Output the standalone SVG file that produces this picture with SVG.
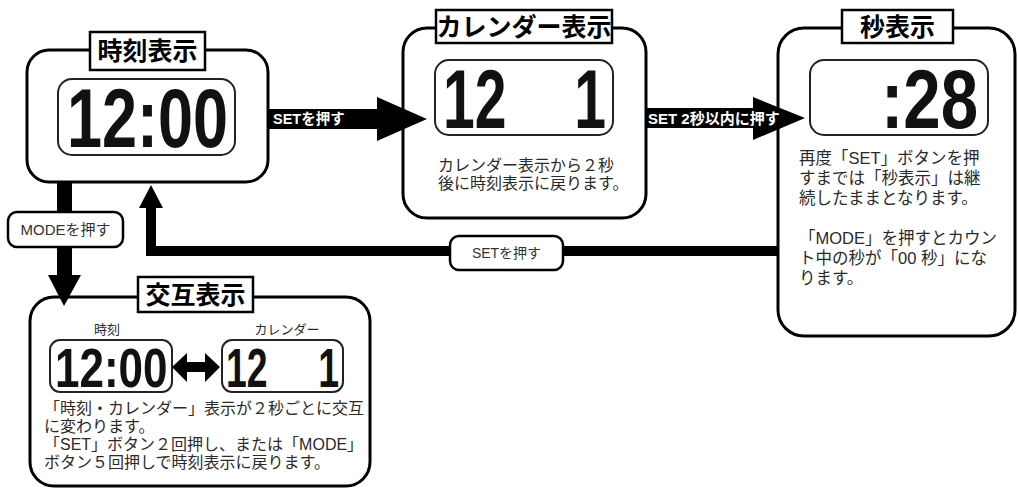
<svg xmlns="http://www.w3.org/2000/svg" width="1018" height="490" viewBox="0 0 1018 490">
<style>
.frame{fill:#fff;stroke:#000;stroke-width:3}
.tbox{fill:#fff;stroke:#000;stroke-width:2.5}
.lcd{fill:#fff;stroke:#222;stroke-width:2}
.lbl{fill:#fff;stroke:#000;stroke-width:2.5}
text{font-family:"Liberation Sans","Noto Sans CJK JP",sans-serif}
.ttl{font-size:25px;font-weight:bold;fill:#000;text-anchor:middle}
.body{font-size:16px;fill:#2a2a2a}
.body3{font-size:16.5px;fill:#2a2a2a}
.small{font-size:13px;fill:#2a2a2a;text-anchor:middle}
.seg{font-weight:bold;fill:#111}
.arrtxt{font-weight:bold;fill:#fff}
.lbltxt{fill:#333;text-anchor:middle}
.blk{fill:#000}
</style>
<rect width="1018" height="490" fill="#fff"/>

<g id="node-time">
<rect class="frame" x="27" y="50" width="241" height="132" rx="22"/>
<rect class="tbox" x="90" y="32" width="115" height="38"/>
<text class="ttl" x="147.5" y="60">時刻表示</text>
<rect class="lcd" x="58" y="79" width="177" height="76" rx="14"/>
<text class="seg" font-size="84" transform="translate(67,147) scale(0.75,1)">12:00</text>
</g>

<g id="node-calendar">
<rect class="frame" x="403" y="28" width="243" height="190" rx="24"/>
<rect class="tbox" x="436" y="10" width="176" height="33"/>
<text class="ttl" x="524" y="36">カレンダー表示</text>
<rect class="lcd" x="435" y="60" width="178" height="75" rx="14"/>
<text class="seg" font-size="84" transform="translate(443,128) scale(0.68,1)">12</text>
<text class="seg" font-size="84" text-anchor="end" transform="translate(606,128) scale(0.68,1)">1</text>
<text class="body" x="438" y="171">カレンダー表示から２秒</text>
<text class="body" x="438" y="189">後に時刻表示に戻ります。</text>
</g>

<g id="node-seconds">
<rect class="frame" x="778" y="28" width="237" height="308" rx="26"/>
<rect class="tbox" x="842" y="10" width="111" height="33"/>
<text class="ttl" x="897.5" y="36">秒表示</text>
<rect class="lcd" x="810" y="60" width="178" height="75" rx="14"/>
<text class="seg" font-size="84" text-anchor="end" transform="translate(978,128) scale(0.8,1)">:28</text>
<text class="body3" x="799" y="164">再度「SET」ボタンを押</text>
<text class="body3" x="799" y="184">すまでは「秒表示」は継</text>
<text class="body3" x="799" y="204">続したままとなります。</text>
<text class="body3" x="799" y="244">「MODE」を押すとカウン</text>
<text class="body3" x="799" y="264">ト中の秒が「00 秒」にな</text>
<text class="body3" x="799" y="284">ります。</text>
</g>

<g id="node-alternate">
<rect class="frame" x="30" y="297" width="340" height="189" rx="24"/>
<rect class="tbox" x="138" y="277" width="115" height="35"/>
<text class="ttl" x="195.5" y="304">交互表示</text>
<text class="small" x="107" y="334">時刻</text>
<text class="small" x="287" y="334">カレンダー</text>
<rect class="lcd" x="50" y="340" width="122" height="52" rx="10"/>
<rect class="lcd" x="222" y="340" width="121" height="52" rx="10"/>
<text class="seg" font-size="55" transform="translate(55,387) scale(0.8,1)">12:00</text>
<text class="seg" font-size="55" transform="translate(226,387) scale(0.68,1)">12</text>
<text class="seg" font-size="55" text-anchor="end" transform="translate(339,387) scale(0.68,1)">1</text>
<polygon class="blk" points="172,367 187,353 187,362 205,362 205,353 220,367 205,382 205,372 187,372 187,382"/>
<text class="body" x="44" y="414">「時刻・カレンダー」表示が２秒ごとに交互</text>
<text class="body" x="44" y="432">に変わります。</text>
<text class="body" x="44" y="450">「SET」ボタン２回押し、または「MODE」</text>
<text class="body" x="44" y="468">ボタン５回押しで時刻表示に戻ります。</text>
</g>

<g id="connectors">
<g id="c-time-calendar">
<polygon class="blk" points="268,109 377,109 377,97 427,119 377,141 377,129 268,129"/>
<text class="arrtxt" x="273" y="124" font-size="14.5">SETを押す</text>
</g>
<g id="c-calendar-seconds">
<polygon class="blk" points="646,108 753,108 753,97 805,118 753,140 753,128 646,128"/>
<text class="arrtxt" x="648" y="123.5" font-size="15">SET 2秒以内に押す</text>
</g>
<g id="c-seconds-time">
<path d="M151,206 V251 H778" fill="none" stroke="#000" stroke-width="10"/>
<polygon class="blk" points="151,185 163,208 139,208"/>
<rect class="lbl" x="450" y="236" width="113" height="34" rx="9"/>
<text class="lbltxt" x="506.5" y="258" font-size="14">SETを押す</text>
</g>
<g id="c-time-alternate">
<rect class="blk" x="57" y="182" width="15" height="94"/>
<polygon class="blk" points="48,275 81,275 64,306"/>
<rect class="lbl" x="8" y="212" width="115" height="35" rx="9"/>
<text class="lbltxt" x="65.5" y="235" font-size="15">MODEを押す</text>
</g>
</g>
</svg>
